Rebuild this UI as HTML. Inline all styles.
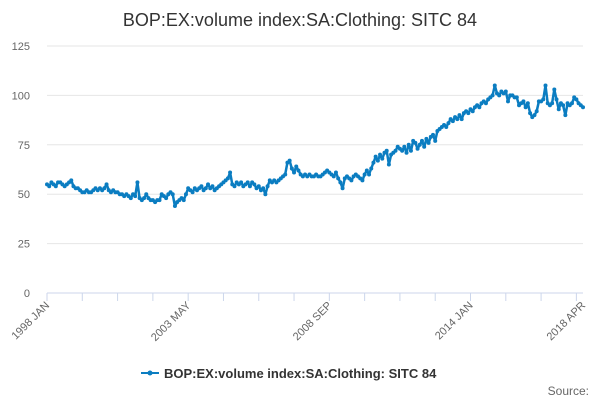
<!DOCTYPE html>
<html><head><meta charset="utf-8"><style>
body{margin:0;background:#fff;font-family:"Liberation Sans",sans-serif}
svg text{font-family:"Liberation Sans",sans-serif}
</style></head><body>
<svg width="600" height="400" id="c">
<text x="300" y="26" text-anchor="middle" font-size="18" fill="#333">BOP:EX:volume index:SA:Clothing: SITC 84</text>
<g id="grid"></g><g id="xax"></g>
<path id="line" fill="none" stroke="#0b7dc1" stroke-width="2.5" stroke-linejoin="round"/>
<g id="pts"></g>
<g>
<line x1="141" y1="373" x2="159" y2="373" stroke="#0b7dc1" stroke-width="2"/><circle cx="150" cy="373" r="2.5" fill="#0b7dc1"/>
<text x="164" y="378" font-size="13" font-weight="bold" fill="#333">BOP:EX:volume index:SA:Clothing: SITC 84</text></g>
<text x="589" y="395" text-anchor="end" font-size="12" fill="#666">Source:</text>
</svg>
<script>
const yTicks=[0,25,50,75,100,125];
const xLabels=["1998 JAN","2003 MAY","2008 SEP","2014 JAN","2018 APR"];
const xLabelIdx=[0,64,128,192,243];
const values=[55,54,56,55,54,56,56,55,54,55,56,57,
54,53,53,52,51,51,52,51,51,52,53,52,
53,52,53,55,52,51,52,51,51,50,50,49,
50,49,48,50,49,56,48,47,48,50,48,47,
47,46,47,47,50,49,48,50,51,50,44,46,
47,48,47,50,53,52,51,53,52,53,54,52,
53,55,53,54,52,53,54,55,56,57,58,61,
55,54,56,55,56,54,55,56,54,56,55,53,
54,52,53,50,54,57,56,57,56,57,58,59,
60,66,67,63,61,64,62,60,59,60,59,60,
59,59,60,59,59,60,61,62,61,60,59,61,
58,56,53,58,59,58,57,59,60,59,58,57,
60,62,60,63,66,69,67,70,68,71,72,65,
70,71,72,74,73,72,74,71,75,72,77,76,
73,75,77,74,78,76,79,80,77,82,83,84,
85,84,86,88,87,89,88,90,88,91,92,91,
93,92,94,95,94,96,97,96,98,99,100,105,
101,100,102,101,102,97,100,100,99,99,95,96,
97,94,96,91,89,90,92,97,97,98,105,96,
95,96,103,98,93,96,95,90,96,95,96,99,
98,96,95,94];
const X0=47,X1=583,Y0=293,Y1=46;
const xs=i=>X0+(X1-X0)*i/(values.length-1);
const ys=v=>Y0-(Y0-Y1)*v/125;
const NS="http://www.w3.org/2000/svg";
const g=document.getElementById('grid'),xa=document.getElementById('xax'),pts=document.getElementById('pts');
yTicks.forEach(t=>{
 const l=document.createElementNS(NS,'line');
 l.setAttribute('x1',X0);l.setAttribute('x2',X1);l.setAttribute('y1',ys(t));l.setAttribute('y2',ys(t));
 l.setAttribute('stroke',t===0?'#ccd6eb':'#e6e6e6');
 
 
 g.appendChild(l);
 const tx=document.createElementNS(NS,'text');
 tx.setAttribute('x',30);tx.setAttribute('y',ys(t)+4);tx.setAttribute('text-anchor','end');
 tx.setAttribute('font-size','11');tx.setAttribute('fill','#666');tx.textContent=t;
 
 
 g.appendChild(tx);
});
for(let i=0;i<values.length;i+=16){
 const l=document.createElementNS(NS,'line');
 l.setAttribute('x1',xs(i));l.setAttribute('x2',xs(i));l.setAttribute('y1',Y0);l.setAttribute('y2',Y0+8);
 l.setAttribute('stroke','#ccd6eb');
 
 
 xa.appendChild(l);
}
xLabels.forEach((s,k)=>{
 const x=xs(xLabelIdx[k]),y=Y0+10;
 const tx=document.createElementNS(NS,'text');
 tx.setAttribute('x',x+3);tx.setAttribute('y',y+3);tx.setAttribute('text-anchor','end');
 tx.setAttribute('font-size','11');tx.setAttribute('fill','#666');
 tx.setAttribute('transform',`rotate(-45 ${x+3} ${y+3})`);tx.textContent=s;
 
 
 xa.appendChild(tx);
});
let d='';
values.forEach((v,i)=>{
 d+=(i?'L':'M')+xs(i).toFixed(1)+' '+ys(v).toFixed(1);
 const c=document.createElementNS(NS,'circle');
 c.setAttribute('cx',xs(i));c.setAttribute('cy',ys(v));c.setAttribute('r',2);c.setAttribute('fill','#0b7dc1');
 
 
 pts.appendChild(c);
});
document.getElementById('line').setAttribute('d',d);
</script>
</body></html>
